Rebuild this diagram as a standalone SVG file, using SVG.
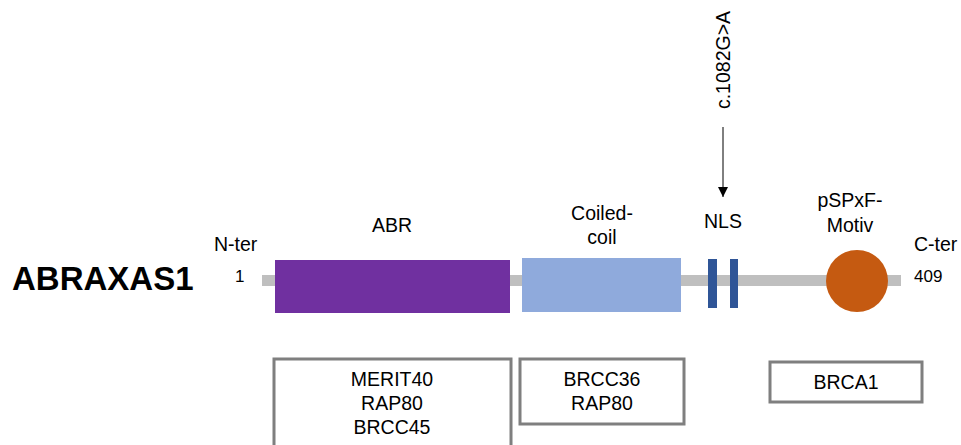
<svg xmlns="http://www.w3.org/2000/svg" width="961" height="445" viewBox="0 0 961 445">
<defs>
<style>
.t{font-family:"Liberation Sans",Arial,sans-serif;font-size:19.5px;fill:#000}
.m{text-anchor:middle}
.s{font-family:"Liberation Sans",Arial,sans-serif;font-size:17px;fill:#000}
.box{fill:#fff;stroke:#7f7f7f;stroke-width:3}
</style>
<marker id="ah" viewBox="0 0 10 10" refX="10" refY="5" markerWidth="10" markerHeight="10" markerUnits="userSpaceOnUse" orient="auto">
<path d="M0,0 L10,5 L0,10 Z" fill="#000"/>
</marker>
</defs>
<rect width="961" height="445" fill="#fff"/>
<text x="12" y="290" font-family="Liberation Sans,Arial,sans-serif" font-size="33" font-weight="bold">ABRAXAS1</text>
<g id="backbone"><rect x="262" y="275" width="639" height="11" fill="#bfbfbf"/></g>
<g id="nter"><text class="t" x="214" y="251">N-ter</text><text class="s" x="235" y="282">1</text></g>
<g id="cter"><text class="t" x="914" y="251">C-ter</text><text class="s" x="914" y="282">409</text></g>
<g id="abr"><rect x="275" y="260" width="235" height="53" fill="#7030a0"/><text class="t m" x="392" y="232">ABR</text></g>
<g id="coiled"><rect x="522" y="258" width="159" height="54" fill="#8faadc"/><text class="t m" x="602" y="220">Coiled-</text><text class="t m" x="602" y="244">coil</text></g>
<g id="nls"><rect x="708" y="259" width="9" height="49" fill="#2f5597"/><rect x="730" y="259" width="8" height="49" fill="#2f5597"/><text class="t m" x="723" y="228">NLS</text></g>
<g id="motif"><circle cx="857" cy="281" r="31" fill="#c55a11"/><text class="t m" x="850" y="207">pSPxF-</text><text class="t m" x="850" y="232">Motiv</text></g>
<g id="mutation"><text class="t m" transform="translate(730,60) rotate(-90)">c.1082G&gt;A</text></g>
<g id="connectors"><line x1="723" y1="127" x2="723" y2="197" stroke="#000" stroke-width="1" marker-end="url(#ah)"/></g>
<g id="box1"><rect class="box" x="274" y="359" width="237" height="95"/><text class="t m" x="392" y="386">MERIT40</text><text class="t m" x="392" y="410">RAP80</text><text class="t m" x="392" y="434">BRCC45</text></g>
<g id="box2"><rect class="box" x="520" y="359" width="164" height="65"/><text class="t m" x="602" y="386">BRCC36</text><text class="t m" x="602" y="410">RAP80</text></g>
<g id="box3"><rect class="box" x="770" y="362" width="152" height="40"/><text class="t m" x="846" y="389">BRCA1</text></g>
</svg>
